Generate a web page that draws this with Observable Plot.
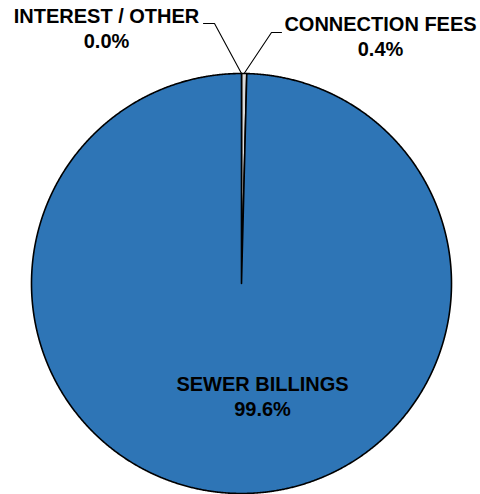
<!DOCTYPE html>
<html>
<head>
<meta charset="utf-8">
<script src="https://cdn.jsdelivr.net/npm/d3@7"></script>
<script src="https://cdn.jsdelivr.net/npm/@observablehq/plot@0.6"></script>
<style>
  html, body { margin: 0; padding: 0; background: #fff; }
  #chart { width: 480px; height: 494px; }
</style>
</head>
<body>
<div id="chart"></div>
<script>
// ---- data ----
const categories = ["INTEREST / OTHER", "CONNECTION FEES", "SEWER BILLINGS"];
const shares = [0.0, 0.4, 99.6];
const shareLabels = ["0.0%", "0.4%", "99.6%"];

// ---- layout / style ----
const W = 480, H = 494;
const cx = 241, cy = 283, R = 210;
const sliceColors = ["#D9D9D9", "#D9D9D9", "#2E75B6"];
const labelLayout = {
  "INTEREST / OTHER": {x: 106, y1: 22, y2: 47, hook: [203, 23], elbow: [214, 23]},
  "CONNECTION FEES": {x: 380, y1: 30, y2: 55, hook: [281, 32], elbow: [271, 32]},
  "SEWER BILLINGS": {x: 262, y1: 390, y2: 415}
};

const table = categories.map((c, i) => ({name: c, value: shares[i], label: shareLabels[i]}));
const arcs = d3.pie().sort(null).value(d => d.value)(table);

// polygon vertices of each slice, derived from pie angles
const pt = a => [cx + R * Math.sin(a), cy - R * Math.cos(a)];
const slicePts = [];
arcs.forEach(a => {
  const span = a.endAngle - a.startAngle;
  const n = Math.max(2, Math.ceil(span / (Math.PI / 720)));
  slicePts.push({name: a.data.name, x: cx, y: cy});
  for (let k = 0; k <= n; k++) {
    const [x, y] = pt(a.startAngle + span * k / n);
    slicePts.push({name: a.data.name, x, y});
  }
  slicePts.push({name: a.data.name, x: cx, y: cy});
});

// leader lines
const leaderPts = [];
arcs.forEach(a => {
  const L = labelLayout[a.data.name];
  if (!L.hook) return;
  const [ex, ey] = pt((a.startAngle + a.endAngle) / 2);
  leaderPts.push({name: a.data.name, x: L.hook[0], y: L.hook[1]});
  leaderPts.push({name: a.data.name, x: L.elbow[0], y: L.elbow[1]});
  leaderPts.push({name: a.data.name, x: ex, y: ey});
});

const labels = table.map(d => ({...d, ...labelLayout[d.name]}));
const font = "Liberation Sans, Arial, sans-serif";

const chart = Plot.plot({
  width: W, height: H,
  margin: 0,
  x: {domain: [0, W], range: [0, W], axis: null},
  y: {domain: [0, H], range: [0, H], axis: null},
  color: {domain: categories, range: sliceColors},
  style: {fontFamily: font, background: "#fff"},
  marks: [
    Plot.line(slicePts, {x: "x", y: "y", z: "name", fill: "name", stroke: "#000", strokeWidth: 1.6, strokeLinejoin: "round", curve: "linear"}),
    Plot.line(leaderPts, {x: "x", y: "y", z: "name", stroke: "#000", strokeWidth: 1.1}),
    Plot.text(labels, {x: "x", y: "y1", text: "name", lineAnchor: "bottom", textAnchor: "middle", fontSize: 20, fontWeight: "bold", fill: "#000"}),
    Plot.text(labels, {x: "x", y: "y2", text: "label", lineAnchor: "bottom", textAnchor: "middle", fontSize: 20, fontWeight: "bold", fill: "#000"})
  ]
});
document.getElementById("chart").appendChild(chart);
</script>
</body>
</html>
